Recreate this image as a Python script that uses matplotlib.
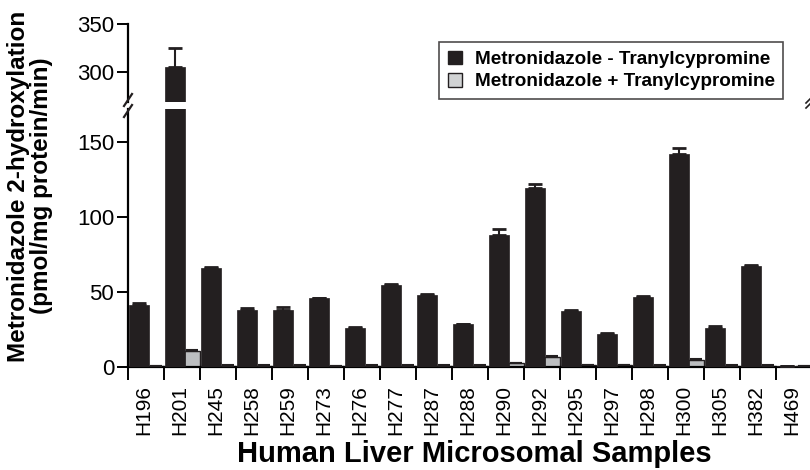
import matplotlib
matplotlib.use("Agg")
import matplotlib.pyplot as plt
import numpy as np
from matplotlib.patches import Patch

plt.rcParams['font.family'] = ['Liberation Sans', 'DejaVu Sans']

samples = ["H196", "H201", "H245", "H258", "H259", "H273", "H276", "H277", "H287", "H288",
           "H290", "H292", "H295", "H297", "H298", "H300", "H305", "H382", "H469"]
minus_tcp = [41, 305, 66, 38, 38, 45.5, 26, 54.2, 48, 28.4,
             88, 119, 37.2, 22, 46.7, 142, 25.6, 67.3, 0.3]
minus_err = [1.5, 20, 0.3, 1.0, 2.0, 0.5, 0.3, 0.8, 0.3, 0.3,
             4.0, 2.5, 0.8, 0.3, 0.3, 3.5, 1.3, 0.3, 0.3]
plus_tcp = [0.3, 10.4, 0.8, 0.8, 0.8, 0.3, 0.8, 0.8, 0.8, 0.8,
            2.2, 6.7, 1.0, 1.0, 0.8, 4.5, 0.8, 0.8, 0.3]
plus_err = [0.1, 0.5, 0.2, 0.2, 0.2, 0.1, 0.2, 0.2, 0.2, 0.2,
            0.3, 0.5, 0.2, 0.2, 0.2, 0.4, 0.2, 0.2, 0.1]

black = "#231f20"
grey = "#bcbec0"

fig = plt.figure(figsize=(8.1, 4.7), dpi=100)
W, H = 810, 470
x0, x1 = 128, 812
ax_top = fig.add_axes([x0 / W, (H - 102) / H, (x1 - x0) / W, (102 - 24) / H])
ax_bot = fig.add_axes([x0 / W, (H - 366.7) / H, (x1 - x0) / W, (366.7 - 109) / H])

idx = np.arange(len(samples))
bw_b, bw_g = 0.54, 0.44
xb = idx + 0.03 + bw_b / 2
xg = idx + 0.56 + bw_g / 2

for ax in (ax_top, ax_bot):
    ax.bar(xg, plus_tcp, width=bw_g, color=grey, edgecolor=black, linewidth=1.0, zorder=2)
    ax.errorbar(xg, plus_tcp, yerr=[np.zeros(len(plus_err)), plus_err], fmt='none',
                ecolor=black, elinewidth=1.2, capsize=4, capthick=1.5, zorder=3)
    ax.errorbar(xb, minus_tcp, yerr=[np.zeros(len(minus_err)), minus_err], fmt='none',
                ecolor=black, elinewidth=1.5, capsize=5, capthick=2, zorder=3)
    ax.bar(xb, minus_tcp, width=bw_b, color=black, edgecolor=black, linewidth=0.5, zorder=4)
    ax.set_xlim(0, len(samples))
    for s in ("top", "right"):
        ax.spines[s].set_visible(False)
    ax.spines["left"].set_linewidth(1.6)
    ax.tick_params(axis='y', direction='out', length=8, width=1.4, labelsize=16, pad=2)

ax_top.set_ylim(269, 350)
ax_top.set_yticks([300, 350])
ax_top.spines["bottom"].set_visible(False)
ax_top.tick_params(axis='x', bottom=False, labelbottom=False)

ax_bot.set_ylim(0, 171.8)
ax_bot.set_yticks([0, 50, 100, 150])
ax_bot.spines["bottom"].set_linewidth(1.6)
ax_bot.set_xticks(idx, minor=False)
ax_bot.set_xticklabels([])
ax_bot.tick_params(axis='x', which='major', direction='out', length=9, width=1.4)
ax_bot.set_xticks(idx + 0.45, minor=True)
ax_bot.set_xticklabels(samples, minor=True, rotation=90, fontsize=15)
ax_bot.tick_params(axis='x', which='minor', length=0, pad=13)

fig.text((237 + 712) / 2 / W, 2 / H, "Human Liver Microsomal Samples",
         ha='center', va='bottom', fontsize=21, fontweight='bold')
fig.text(0.037, (H - 186) / H, "Metronidazole 2-hydroxylation\n(pmol/mg protein/min)",
         rotation=90, ha='center', va='center', fontsize=17.5, fontweight='bold', linespacing=1.0)

# break marks on left spine
for yy in (100, 111):
    yf = (H - yy) / H
    fig.add_artist(plt.Line2D([(x0 - 4) / W, (x0 + 4) / W], [yf - 6 / H, yf + 6 / H],
                              color=black, lw=1.6, transform=fig.transFigure))
# small break mark at right
for yy in (101, 106):
    yf = (H - yy) / H
    fig.add_artist(plt.Line2D([806 / W, 810 / W], [yf - 2 / H, yf + 2 / H],
                              color=black, lw=1.2, transform=fig.transFigure))

handles = [Patch(facecolor=black, edgecolor=black, label="Metronidazole - Tranylcypromine"),
           Patch(facecolor="#d1d3d4", edgecolor=black, label="Metronidazole + Tranylcypromine")]
leg = ax_top.legend(handles=handles, loc='upper left',
                    bbox_to_anchor=((439 - x0) / (x1 - x0), 1 - (42 - 24) / 78),
                    prop={'weight': 'bold', 'size': 13.6}, frameon=True, fancybox=False,
                    edgecolor=black, handlelength=0.75, handleheight=0.75, handletextpad=0.7,
                    borderpad=0.45, labelspacing=0.25, borderaxespad=0)
leg.get_frame().set_linewidth(1.2)

fig.savefig("out.png", dpi=100)
